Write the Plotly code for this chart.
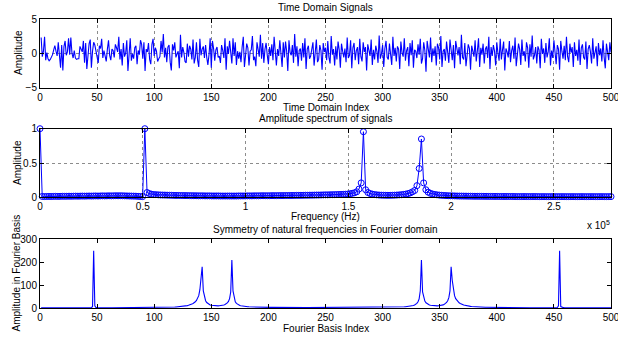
import plotly.graph_objects as go
from plotly.subplots import make_subplots

# ---------------- data ----------------
# Time-domain samples (index 1..500)
TIME_SIGNAL = [
    2.3,-0.5,0.3,2.4,-1.0,0.1,-0.8,-1.1,-0.9,-0.5,-0.2,0.5,1.1,0.3,-0.4,1.6,-0.6,-2.1,1.2,-2.5,
    1.0,1.8,-0.3,0.2,2.2,-0.2,2.3,0.0,-0.7,0.4,-0.7,-0.9,-0.8,-0.8,1.0,0.5,0.2,1.8,-1.4,1.5,
    -2.3,-0.4,1.4,2.0,-2.1,0.3,1.6,1.2,0.2,-0.5,-1.4,1.1,0.7,2.1,-0.7,0.4,-0.3,-1.2,0.6,1.9,
    -0.3,-1.0,0.6,0.4,-0.6,1.3,0.8,0.2,2.4,-0.9,0.6,-1.8,1.5,-0.5,0.0,1.9,-2.6,0.4,2.2,-1.1,
    -0.1,-0.8,0.8,1.1,-1.6,0.4,-0.2,1.9,1.3,-0.8,1.6,-2.6,0.6,0.2,1.5,-0.9,-1.6,1.3,2.1,-0.4,
    0.8,0.3,-1.2,-0.8,-0.5,1.8,0.1,2.8,-0.6,0.8,-1.3,0.9,1.2,-1.3,-2.5,1.3,0.4,1.6,-0.6,-0.1,
    0.3,-2.2,2.7,-0.6,0.9,0.1,-1.2,-1.4,1.4,-0.5,1.1,0.6,-0.9,2.0,-1.5,-0.6,1.6,-1.0,-2.0,2.1,
    -0.3,0.6,1.0,-0.7,1.2,-0.6,-1.7,-0.2,2.2,-2.1,1.8,0.7,-1.1,0.5,0.9,-0.6,-0.4,-1.4,1.2,0.4,
    -0.7,2.2,-2.4,1.0,-0.1,1.8,0.3,-1.5,2.2,-0.4,1.6,-1.7,0.3,-0.8,0.2,-1.3,0.9,2.4,-2.0,0.5,
    1.4,0.8,-1.8,0.3,0.5,2.5,-1.0,-0.5,-1.9,1.6,0.1,-0.5,2.7,-0.8,1.5,-1.4,0.6,1.5,-0.3,-1.6,
    0.9,-0.4,1.3,-1.0,2.4,-0.3,-1.8,0.6,-0.4,1.9,0.2,-2.0,1.6,-0.6,1.7,0.3,-2.6,1.9,0.1,-0.3,
    1.2,-1.4,2.8,-0.5,1.0,-1.9,0.4,0.7,-1.1,1.5,-0.6,2.2,-2.3,0.6,1.1,-0.8,-0.4,0.9,1.6,-1.8,
    0.3,2.0,-1.3,-0.9,1.2,0.4,-2.4,1.5,0.2,0.8,-1.0,1.8,-0.6,-1.5,2.5,-0.2,0.6,-1.8,1.0,-0.9,
    1.7,0.5,-2.1,1.4,0.3,-0.6,0.7,-1.3,2.3,-0.7,-0.3,1.9,-2.2,0.8,1.5,-1.0,0.4,0.9,-1.6,2.1,
    -0.5,-1.2,1.6,0.2,0.9,-2.5,1.3,0.6,-0.4,2.0,-1.7,0.5,-0.9,1.1,0.3,-1.4,2.6,-0.8,-0.1,1.2,
    -2.0,0.7,1.8,-0.6,-0.9,1.4,0.2,-1.7,2.4,-0.4,0.8,-1.2,1.0,0.6,-2.3,1.7,0.1,-0.5,2.2,-1.1,
    0.4,0.9,-1.9,1.5,-0.3,1.9,-2.1,0.5,0.3,-0.7,1.3,-0.2,2.1,-1.5,-0.8,1.6,0.4,-2.7,1.8,0.2,
    -0.6,2.3,-1.3,0.7,-0.4,1.0,-1.8,1.4,0.8,-0.9,2.5,-2.0,0.3,0.6,-1.1,1.7,-0.5,-1.4,2.0,0.4,
    -1.0,1.2,-2.2,1.8,0.5,-0.3,0.9,-1.6,2.7,-0.6,-0.9,1.5,-1.9,0.2,1.3,0.7,-2.4,1.1,0.3,-0.5,
    1.9,-1.2,0.4,2.2,-2.0,0.8,-0.2,1.4,-1.5,0.6,1.0,-0.7,2.4,-2.3,0.9,-0.4,1.2,0.3,-1.8,1.6,
    0.0,-1.1,2.1,-0.9,0.5,1.7,-2.5,0.7,0.2,-0.6,1.8,-1.3,0.4,1.1,-0.8,2.3,-1.9,-0.2,1.4,0.6,
    -1.7,2.0,-0.4,0.3,-1.2,1.6,0.8,-2.1,1.3,-0.5,2.6,-0.9,-0.3,0.9,-1.5,1.0,0.5,-2.2,2.1,-0.1,
    0.7,-1.4,1.5,-0.6,0.2,2.2,-1.8,0.4,-0.7,1.9,-0.2,-1.6,1.2,0.6,-2.4,1.8,0.3,-0.8,1.1,-1.0,
    2.4,-0.5,-1.3,1.4,0.1,0.9,-2.0,1.6,-0.4,0.5,-1.1,2.0,-1.7,0.8,1.3,-0.6,-0.9,1.7,-2.3,0.6,
    1.2,0.2,-1.5,2.2,-0.8,0.4,1.0,-1.9,1.5,-0.3,0.7,-1.2,1.9,-0.6,-2.2,1.4,0.5,-1.0,1.6,0.1,
]

# Normalised amplitude spectrum, one value per frequency bin (bin 0 = 0 Hz)
SPEC_BIN_HZ = 1085.0
SPECTRUM = [
    1.0,
    0.012,0.011,0.012,0.013,0.012,0.013,0.014,0.013,0.014,0.015,
    0.014,0.015,0.016,0.015,0.016,0.017,0.016,0.017,0.018,0.017,
    0.018,0.019,0.018,0.019,0.020,0.019,0.020,0.021,0.020,0.021,
    0.022,0.021,0.022,0.023,0.022,0.023,0.022,0.021,0.020,0.019,
    0.018,0.017,0.016,0.014,0.012,
    0.010, 1.0, 0.07, 0.055, 0.045,
    0.040,0.038,0.036,0.034,0.033,0.032,0.031,0.030,0.029,0.028,
    0.027,0.027,0.026,0.026,0.025,0.025,0.024,0.024,0.023,0.023,
    0.022,0.022,0.022,0.021,0.021,0.021,0.020,0.020,0.020,0.020,
    0.019,0.019,0.019,0.019,0.019,0.019,0.019,0.019,0.020,0.020,
    0.020,0.020,0.021,0.021,0.021,0.022,0.022,0.022,0.023,0.023,
    0.023,0.023,0.023,0.024,0.024,0.024,0.025,0.025,0.025,0.026,
    0.026,0.026,0.027,0.027,0.028,0.028,0.029,0.029,0.030,0.030,
    0.031,0.031,0.032,0.033,0.033,0.034,0.035,0.036,0.036,0.037,
    0.038,0.039,0.040,0.041,0.042,0.043,
    0.045,0.048,0.052,0.058,0.066,0.080,0.12,0.21,
    0.956,
    0.11,0.07,0.055,0.046,0.040,0.036,0.033,0.031,0.030,0.029,
    0.029,0.029,0.030,0.031,0.033,0.035,0.038,0.042,0.047,0.054,
    0.064,0.080,0.10,
    0.17,0.42,0.85,0.21,0.11,
    0.075,0.058,0.048,0.041,0.036,0.032,0.029,0.027,0.025,0.023,
    0.022,0.021,0.020,0.019,0.018,0.018,0.017,0.017,0.016,0.016,
    0.015,0.015,0.015,0.014,0.014,0.014,0.014,0.013,0.013,0.013,
    0.013,0.013,0.012,0.012,0.012,0.012,0.012,0.012,0.012,0.011,
    0.011,0.011,0.011,0.011,0.011,0.011,0.011,0.011,0.011,0.011,
    0.010,0.010,0.010,0.010,0.010,0.010,0.010,0.010,0.010,0.010,
    0.010,0.010,0.010,0.010,0.010,0.010,0.010,0.010,0.010,0.010,
    0.010,0.010,0.010,0.010,0.010,0.010,0.010,0.010,0.010,0.010,
    0.010,0.010,0.010,
]

# |FFT| in Fourier basis (index 1..500)
BASIS_AMP = [
    1.2,1.2,1.2,1.2,1.2,1.2,1.2,1.2,1.2,1.2,          # 1-10
    1.2,1.2,1.2,1.2,1.2,1.2,1.2,1.2,1.2,1.2,          # 11-20
    1.2,1.2,1.2,1.2,1.2,1.2,1.2,1.2,1.2,1.2,          # 21-30
    1.2,1.2,1.2,1.2,1.2,1.3,1.3,1.3,1.4,1.4,          # 31-40
    1.5,1.6,1.7,1.9,2.3,6,250,10,2.5,1.8,             # 41-50
    1.5,1.4,1.3,1.3,1.3,1.2,1.2,1.2,1.2,1.2,          # 51-60
    1.2,1.2,1.2,1.2,1.2,1.2,1.2,1.2,1.2,1.2,          # 61-70
    1.2,1.2,1.2,1.2,1.2,1.3,1.3,1.3,1.3,1.3,          # 71-80
    1.3,1.3,1.4,1.4,1.4,1.4,1.5,1.5,1.5,1.6,          # 81-90
    1.6,1.6,1.7,1.7,1.8,1.8,1.9,1.9,2.0,2.0,          # 91-100
    2.1,2.2,2.2,2.3,2.4,2.5,2.6,2.7,2.8,2.9,          # 101-110
    3.0,3.1,3.3,3.4,3.6,3.8,4.0,4.2,4.5,4.8,          # 111-120
    5.1,5.5,5.9,6.4,7.0,7.6,8.4,9.3,10.5,12,          # 121-130
    13,15,17,20,23,27,33,41,54,80,                    # 131-140
    120,180,75,45,32,24,19,16,13.5,12,                # 141-150
    11,10.3,9.8,9.5,9.3,9.3,9.5,9.8,10.5,11.5,        # 151-160
    13,15,18,22,29,41,70,210,75,40,                   # 161-170
    27,20,16,13,11,9.5,8.4,7.6,6.9,6.3,               # 171-180
    5.9,5.5,5.2,4.9,4.6,4.4,4.2,4.0,3.8,3.7,          # 181-190
    3.5,3.4,3.3,3.2,3.1,3.0,2.9,2.8,2.8,2.7,          # 191-200
    2.7,2.6,2.6,2.5,2.5,2.4,2.4,2.3,2.3,2.3,          # 201-210
    2.2,2.2,2.2,2.1,2.1,2.1,2.1,2.0,2.0,2.0,          # 211-220
    2.0,2.0,1.9,1.9,1.9,1.9,1.9,1.9,1.9,1.9,          # 221-230
    1.9,1.9,1.9,1.9,1.9,1.9,1.9,1.9,1.9,1.9,          # 231-240
    1.9,1.9,1.9,1.9,1.9,1.9,1.9,1.9,1.9,1.9,          # 241-250
    1.9,1.9,1.9,1.9,1.9,1.9,1.9,1.9,1.9,1.9,          # 251-260
    1.9,1.9,1.9,1.9,1.9,1.9,1.9,1.9,1.9,1.9,          # 261-270
    1.9,1.9,1.9,1.9,1.9,1.9,2.0,2.0,2.0,2.0,          # 271-280
    2.0,2.1,2.1,2.1,2.1,2.2,2.2,2.2,2.3,2.3,          # 281-290
    2.3,2.4,2.4,2.5,2.5,2.5,2.6,2.6,2.6,2.7,          # 291-300
    2.7,2.7,2.8,2.8,2.9,3.0,3.1,3.2,3.3,3.4,          # 301-310
    3.5,3.7,3.8,4.0,4.2,4.4,4.6,4.9,5.2,5.5,          # 311-320
    5.9,6.3,6.9,7.6,8.4,9.5,11,13,16,20,              # 321-330
    27,40,75,210,70,42,30,23,18.5,15.5,               # 331-340
    13.5,12,11,10.3,9.8,9.5,9.3,9.3,9.5,10,           # 341-350
    11,12,13.5,16,19,24,32,45,75,180,                 # 351-360
    120,80,54,41,33,27,23,20,17,15,                   # 361-370
    13,12,10.5,9.3,8.4,7.6,7.0,6.4,5.9,5.5,           # 371-380
    5.1,4.8,4.5,4.2,4.0,3.8,3.6,3.4,3.3,3.1,          # 381-390
    3.0,2.9,2.8,2.7,2.6,2.5,2.4,2.3,2.2,2.2,          # 391-400
    2.1,2.0,2.0,1.9,1.9,1.8,1.8,1.7,1.7,1.6,          # 401-410
    1.6,1.6,1.5,1.5,1.5,1.4,1.4,1.4,1.4,1.3,          # 411-420
    1.3,1.3,1.3,1.3,1.3,1.3,1.2,1.2,1.2,1.2,          # 421-430
    1.2,1.2,1.2,1.2,1.2,1.2,1.2,1.2,1.2,1.2,          # 431-440
    1.2,1.2,1.2,1.2,1.3,1.3,1.3,1.4,1.4,1.5,          # 441-450
    1.6,1.8,2.5,10,250,6,2.3,1.9,1.7,1.6,             # 451-460
    1.5,1.4,1.4,1.3,1.3,1.2,1.2,1.2,1.2,1.2,          # 461-470
    1.2,1.2,1.2,1.2,1.2,1.2,1.2,1.2,1.2,1.2,          # 471-480
    1.2,1.2,1.2,1.2,1.2,1.2,1.2,1.2,1.2,1.2,          # 481-490
    1.2,1.2,1.2,1.2,1.2,1.2,1.2,1.2,1.2,1.2,          # 491-500
]

INDEX_TICKS = [0, 50, 100, 150, 200, 250, 300, 350, 400, 450, 500]
FREQ_TICKS = [0, 50000, 100000, 150000, 200000, 250000]
FREQ_TICK_TEXT = ["0", "0.5", "1", "1.5", "2", "2.5"]

# ---------------- figure ----------------
W, H = 618, 339
ML, MR, MT, MB = 40, 7, 19, 31
PW, PH = W - ML - MR, H - MT - MB
FONT = "Liberation Sans, Arial, Helvetica, sans-serif"
BLUE = "#0000FF"


def py(ypx):
    return (H - MB - ypx) / PH


def px(xpx):
    return (xpx - ML) / PW


fig = make_subplots(rows=3, cols=1)

t_idx = list(range(1, len(TIME_SIGNAL) + 1))
fig.add_trace(go.Scatter(x=t_idx, y=TIME_SIGNAL, mode="lines",
                         line=dict(color=BLUE, width=1.1), showlegend=False),
              row=1, col=1)

freqs = [k * SPEC_BIN_HZ for k in range(len(SPECTRUM))]
fig.add_trace(go.Scatter(x=freqs, y=SPECTRUM, mode="lines+markers",
                         line=dict(color=BLUE, width=1),
                         marker=dict(symbol="circle-open", size=6,
                                     color=BLUE, line=dict(width=1, color=BLUE)),
                         cliponaxis=False, showlegend=False),
              row=2, col=1)

b_idx = list(range(1, len(BASIS_AMP) + 1))
fig.add_trace(go.Scatter(x=b_idx, y=BASIS_AMP, mode="lines",
                         line=dict(color=BLUE, width=1.1), showlegend=False),
              row=3, col=1)

axis_common = dict(showline=True, linecolor="black", linewidth=1, mirror="ticks",
                   ticks="inside", ticklen=4, tickcolor="black", zeroline=False,
                   ticklabeloverflow="allow", automargin=False,
                   tickfont=dict(family=FONT, size=10, color="black"))
grid_on = dict(showgrid=True, gridcolor="#8c8c8c", gridwidth=1, griddash="dot")

fig.update_layout(
    xaxis=dict(domain=[0, 1], range=[0, 500], tickvals=INDEX_TICKS, **axis_common, **grid_on),
    yaxis=dict(domain=[py(87.5), 1.0], range=[-5, 5], tickvals=[-5, 0, 5], **axis_common, **grid_on),
    xaxis2=dict(domain=[0, 1], range=[0, freqs[-1]], tickvals=FREQ_TICKS, ticktext=FREQ_TICK_TEXT,
                **axis_common, **grid_on),
    yaxis2=dict(domain=[py(197.3), py(128.7)], range=[0, 1], tickvals=[0, 0.5, 1],
                **axis_common, **grid_on),
    xaxis3=dict(domain=[0, 1], range=[0, 500], tickvals=INDEX_TICKS, showgrid=False, **axis_common),
    yaxis3=dict(domain=[0, py(239.3)], range=[0, 300], tickvals=[0, 100, 200, 300],
                showgrid=False, **axis_common),
)

cx = px((ML + W - MR) / 2)
ann = []


def add_text(text, x, y, angle=0, xanchor="center"):
    ann.append(dict(text=text, x=x, y=y, xref="paper", yref="paper", showarrow=False,
                    textangle=angle, xanchor=xanchor, yanchor="middle",
                    font=dict(family=FONT, size=10, color="black")))


add_text("Time Domain Signals", cx, py(7.5))
add_text("Time Domain Index", cx, py(107))
add_text("Amplitude", px(18), py(53), angle=-90)
add_text("Amplitude spectrum of signals", cx, py(118))
add_text("Frequency (Hz)", cx, py(216.5))
add_text("Amplitude", px(17), py(163), angle=-90)
add_text("x 10<sup>5</sup>", px(612), py(225), xanchor="right")
add_text("Symmetry of natural frequencies in Fourier domain", cx, py(229))
add_text("Fourier Basis Index", cx, py(328))
add_text("Amplitude in Fourier Basis", px(16), py(273.5), angle=-90)

fig.update_layout(
    width=W, height=H, margin=dict(l=ML, r=MR, t=MT, b=MB, autoexpand=False),
    paper_bgcolor="white", plot_bgcolor="white",
    font=dict(family=FONT, size=10, color="black"),
    annotations=ann, showlegend=False,
)

fig.write_html("out.html", include_plotlyjs=True, config={"displayModeBar": False},
               post_script="document.body.style.margin='0px';document.body.style.padding='0px';")
